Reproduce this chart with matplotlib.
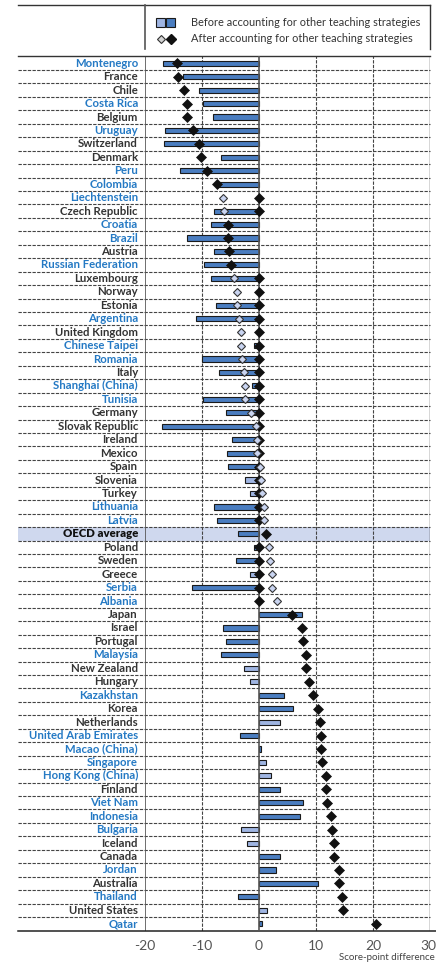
import numpy as np
import matplotlib
matplotlib.use("Agg")
import matplotlib.pyplot as plt
from matplotlib import transforms
from matplotlib.patches import Rectangle
from matplotlib.lines import Line2D

# ---- data -------------------------------------------------------------
countries = [
    "Montenegro", "France", "Chile", "Costa Rica", "Belgium", "Uruguay",
    "Switzerland", "Denmark", "Peru", "Colombia", "Liechtenstein",
    "Czech Republic", "Croatia", "Brazil", "Austria", "Russian Federation",
    "Luxembourg", "Norway", "Estonia", "Argentina", "United Kingdom",
    "Chinese Taipei", "Romania", "Italy", "Shanghai (China)", "Tunisia",
    "Germany", "Slovak Republic", "Ireland", "Mexico", "Spain", "Slovenia",
    "Turkey", "Lithuania", "Latvia", "OECD average", "Poland", "Sweden",
    "Greece", "Serbia", "Albania", "Japan", "Israel", "Portugal", "Malaysia",
    "New Zealand", "Hungary", "Kazakhstan", "Korea", "Netherlands",
    "United Arab Emirates", "Macao (China)", "Singapore", "Hong Kong (China)",
    "Finland", "Viet Nam", "Indonesia", "Bulgaria", "Iceland", "Canada",
    "Jordan", "Australia", "Thailand", "United States", "Qatar",
]

# 1 = partner economy (blue label), 0 = OECD country
partner = [
    1, 0, 0, 1, 0, 1, 0, 0, 1, 1, 1, 0, 1, 1, 0, 1, 0, 0, 0, 1, 0, 1, 1, 0, 1,
    1, 0, 0, 0, 0, 0, 0, 0, 1, 1, 0, 0, 0, 0, 1, 1, 0, 0, 0, 1, 0, 0, 1, 0, 0,
    1, 1, 1, 1, 0, 1, 1, 1, 0, 0, 1, 0, 1, 0, 1,
]

# Score-point difference before accounting for other teaching strategies
before = [
    -16.9, -13.4, -10.6, -9.9, -8.1, -16.5, -16.6, -6.6, -13.8, -7.3, 0.0,
    -7.9, -8.4, -12.7, -7.9, -9.6, -8.4, 0.0, -7.5, -11.1, 0.0, -0.9, -10.0,
    -7.0, -1.2, -9.8, -5.8, -17.0, -4.7, -5.7, -5.4, -2.4, -1.5, -7.9, -7.3,
    -3.7, -0.9, -4.0, -1.6, -11.7, 0.0, 7.6, -6.4, -5.8, -6.7, -2.7, -1.6,
    4.4, 6.0, 3.6, -3.4, 0.3, 1.2, 2.1, 3.6, 7.8, 7.2, -3.2, -2.1, 3.6, 3.0,
    10.4, -3.7, 1.35, 0.5,
]
before_sig = [
    1, 1, 1, 1, 1, 1, 1, 1, 1, 1, 0, 1, 1, 1, 1, 1, 1, 0, 1, 1, 0, 1, 1, 1, 1,
    1, 1, 1, 1, 1, 1, 0, 0, 1, 1, 1, 1, 1, 0, 1, 0, 1, 1, 1, 1, 0, 0, 1, 1, 0,
    1, 1, 0, 0, 1, 1, 1, 0, 0, 1, 1, 1, 1, 0, 1,
]

# Score-point difference after accounting for other teaching strategies
after = [
    -14.4, -14.2, -13.2, -12.6, -12.6, -11.6, -10.5, -10.2, -9.1, -7.4, -6.4,
    -6.1, -5.5, -5.4, -5.2, -4.9, -4.4, -3.9, -3.8, -3.5, -3.2, -3.2, -2.9,
    -2.6, -2.4, -2.4, -1.4, -0.5, -0.3, -0.3, 0.1, 0.4, 0.6, 0.8, 0.8, 1.2,
    1.8, 1.9, 2.2, 2.2, 3.1, 5.8, 7.6, 7.8, 8.3, 8.3, 8.8, 9.5, 10.4, 10.7,
    10.8, 10.9, 11.1, 11.8, 11.8, 12.0, 12.6, 12.8, 13.2, 13.2, 14.0, 14.1,
    14.5, 14.7, 20.5,
]
after_sig = [
    1, 1, 1, 1, 1, 1, 1, 1, 1, 1, 0, 0, 1, 1, 1, 1, 0, 0, 0, 0, 0, 0, 0, 0, 0,
    0, 0, 0, 0, 0, 0, 0, 0, 0, 0, 1, 0, 0, 0, 0, 0, 1, 1, 1, 1, 1, 1, 1, 1, 1,
    1, 1, 1, 1, 1, 1, 1, 1, 1, 1, 1, 1, 1, 1, 1,
]

xticks = [-20, -10, 0, 10, 20, 30]
xlabel = "Score-point difference"
legend_before = "Before accounting for other teaching strategies"
legend_after = "After accounting for other teaching strategies"

# ---- style ------------------------------------------------------------
DARK_BAR = "#4a7dc0"
LIGHT_BAR = "#9fb5e2"
LIGHT_DIAMOND = "#c9d4f0"
BLUE_TXT = "#2479c4"
GRAY_TXT = "#333333"
GRID = "#444444"
BAND = "#cfd8ee"
FONT = ["Lato", "DejaVu Sans"]

plt.rcParams["font.family"] = FONT

W, H = 436, 963
fig = plt.figure(figsize=(W / 100, H / 100), dpi=100)

x_left, x_right = 145, 430
y_top, y_bot = 56.5, 930.5
ax = fig.add_axes([x_left / W, 1 - y_bot / H, (x_right - x_left) / W,
                   (y_bot - y_top) / H])

n = len(countries)
ypos = np.arange(n)
before = np.array(before, dtype=float)
after = np.array(after, dtype=float)
bsig = np.array(before_sig, dtype=bool)
asig = np.array(after_sig, dtype=bool)

ax.set_xlim(-20, 30)
ax.set_ylim(n - 0.5, -0.5)
for s in ax.spines.values():
    s.set_visible(False)

blend = transforms.blended_transform_factory(ax.transAxes, ax.transData)
label_x0 = (18 - x_left) / (x_right - x_left)

# highlighted OECD average row
oecd_idx = countries.index("OECD average")
ax.add_patch(Rectangle((label_x0, oecd_idx - 0.5), 1 - label_x0, 1.0,
                       transform=blend, facecolor=BAND, edgecolor="none",
                       clip_on=False, zorder=0))

# dashed row separators across labels and plot
dash = (0, (3.0, 1.2))
for b in np.arange(0.5, n - 1, 1.0):
    ax.plot([label_x0, 1], [b, b], transform=blend, color=GRID, lw=0.8,
            ls=dash, clip_on=False, zorder=1)

# vertical grid
for xv in [-10, 10, 20]:
    ax.axvline(xv, color=GRID, lw=0.8, ls=dash, zorder=1)
ax.axvline(-20, color="#555555", lw=1.2, zorder=1)
ax.axvline(30, color="#333333", lw=1.0, zorder=1)

# top and bottom frame lines
ax.plot([label_x0, 1], [-0.5, -0.5], transform=blend, color="#333333",
        lw=1.0, clip_on=False, zorder=2)
ax.plot([label_x0, (436 - x_left) / (x_right - x_left)], [n - 0.5, n - 0.5],
        transform=blend, color="#222222", lw=1.1, clip_on=False, zorder=2)

# bars
bar_colors = [DARK_BAR if s else LIGHT_BAR for s in bsig]
ax.barh(ypos, before, height=0.38, color=bar_colors, edgecolor="#1a1a1a",
        linewidth=0.8, zorder=3)

ax.axvline(0, color="#555555", lw=1.2, zorder=4)

# diamonds: significant series (0 where not significant) and non-significant
after_sig_series = np.where(asig, after, 0.0)
after_ns_series = np.where(asig, np.nan, after)
ax.plot(after_sig_series, ypos, ls="none", marker="D", ms=4.6,
        mfc="#111111", mec="#111111", mew=0.5, zorder=5)
ax.plot(after_ns_series, ypos, ls="none", marker="D", ms=4.5,
        mfc=LIGHT_DIAMOND, mec="#333333", mew=0.8, zorder=6)

# country labels
for i, name in enumerate(countries):
    if name == "OECD average":
        col, wt = "#111111", "heavy"
    else:
        col, wt = (BLUE_TXT if partner[i] else GRAY_TXT), "bold"
    ax.text(-0.025, i, name, transform=blend, ha="right", va="center",
            fontsize=8.2, color=col, fontweight=wt)

ax.set_yticks([])
ax.set_xticks(xticks)
ax.set_xticklabels([str(t) for t in xticks])
ax.tick_params(axis="x", length=0, pad=7, labelsize=10, labelcolor="#555555")
# keep the last tick label inside the canvas
last = ax.get_xticklabels()[-1]
last.set_horizontalalignment("right")
last.set_transform(last.get_transform() +
                   transforms.ScaledTranslation(6 / 100, 0,
                                                fig.dpi_scale_trans))

fig.text(435 / W, 1 - 957 / H, xlabel, ha="right", va="center",
         fontsize=7, color="#444444")

# ---- legend box -------------------------------------------------------
def fx(px):
    return px / W


def fy(py):
    return 1 - py / H


fig.add_artist(Line2D([fx(18), fx(430)], [fy(4.7), fy(4.7)],
                      color="#333333", lw=1.0))
fig.add_artist(Line2D([fx(145), fx(145)], [fy(4.7), fy(49)],
                      color="#555555", lw=1.2))
fig.add_artist(Line2D([fx(430), fx(430)], [fy(4.7), fy(49)],
                      color="#333333", lw=1.0))

sq = 9.2
for x0, c in [(155.5, LIGHT_BAR), (165.8, DARK_BAR)]:
    fig.add_artist(Rectangle((fx(x0), fy(22.7 + sq / 2)), sq / W, sq / H,
                             transform=fig.transFigure, facecolor=c,
                             edgecolor="#1a1a1a", lw=0.8))
fig.add_artist(Line2D([fx(160.5)], [fy(39)], marker="D", ms=4.5, ls="none",
                      mfc="#d4d4d4", mec="#333333", mew=0.8))
fig.add_artist(Line2D([fx(170.7)], [fy(39)], marker="D", ms=4.6, ls="none",
                      mfc="#111111", mec="#111111"))
fig.text(fx(190.5), fy(22.7), legend_before, ha="left", va="center",
         fontsize=7.9, color="#333333")
fig.text(fx(190.5), fy(39), legend_after, ha="left", va="center",
         fontsize=7.9, color="#333333")

fig.savefig("out.png", dpi=100)
